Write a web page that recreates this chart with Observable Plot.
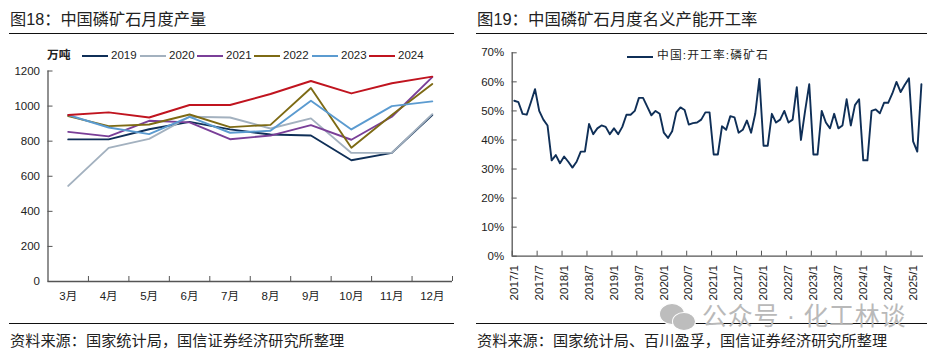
<!DOCTYPE html>
<html><head><meta charset="utf-8">
<script src="https://cdn.jsdelivr.net/npm/d3@7"></script>
<script src="https://cdn.jsdelivr.net/npm/@observablehq/plot@0.6"></script>
<style>
html,body{margin:0;padding:0;background:#fff}
#page{position:relative;width:937px;height:354px;overflow:hidden;font-family:"Liberation Sans","Noto Sans CJK SC",sans-serif;color:#222}
#page svg{position:absolute;top:0}
.t{position:absolute;white-space:nowrap;line-height:1}
.r{position:absolute;height:1.3px;background:#111}
.s{position:absolute;height:2.2px}
</style></head><body><div id="page"></div>
<script>
const months = ["3月","4月","5月","6月","7月","8月","9月","10月","11月","12月"];
const years = ["2019","2020","2021","2022","2023","2024"];
const colors = ["#0f2f57","#a3b1bf","#7a3f98","#7d6a14","#5b9bd0","#c0141f"];
const v2019 = [810,810,868,910,867,838,832,691,733,949];
const v2020 = [545,762,813,939,935,872,930,733,733,954];
const v2021 = [853,827,916,907,811,832,891,808,939,1165];
const v2022 = [943,886,895,952,880,893,1103,762,949,1126];
const v2023 = [949,878,840,939,848,859,1030,867,1000,1027];
const v2024 = [949,964,935,1006,1006,1069,1143,1072,1130,1168];
const rate = [53.5,53,49,48.7,53,57.5,50,47,45,33,34.8,32,34.3,32.5,30.5,32.5,36,36,45.5,42,44,45,44.5,42,44,42,44.5,48.7,48.7,50,54.5,54.5,51.5,48.5,50,49,42.5,40.7,43,49.5,51.2,50.3,45.3,45.8,46,47,49.5,49.5,35,35,44.7,43.5,48.2,47.8,42.5,43.5,46.7,42.5,49,61,38,38,49,46,47,50,46,47,58.2,40,50,59.2,35,35,50,46,44,49,44,45,54,45,52,54,33,33,50,50.5,49.2,52.8,52.8,56,60,56.5,59,61.2,39.5,36,59.2];
const rateTicks = ["2017/1","2017/7","2018/1","2018/7","2019/1","2019/7","2020/1","2020/7","2021/1","2021/7","2022/1","2022/7","2023/1","2023/7","2024/1","2024/7","2025/1"];
const yTicksL = [0,200,400,600,800,1000,1200];
const yTicksR = [0,10,20,30,40,50,60,70];
const legendX = [82,140,197,254,312,369];

const page = document.getElementById("page");
const font = `"Liberation Sans","Noto Sans CJK SC",sans-serif`;
const axisColor = "#555";
function txt(s,x,y,size,extra){const d=document.createElement("div");d.className="t";d.textContent=s;d.style.cssText=`left:${x}px;top:${y}px;font-size:${size}px;${extra||""}`;page.appendChild(d);return d}
function rule(x,y,w){const d=document.createElement("div");d.className="r";d.style.cssText=`left:${x}px;top:${y}px;width:${w}px`;page.appendChild(d)}
function swatch(x,y,w,c){const d=document.createElement("div");d.className="s";d.style.cssText=`left:${x}px;top:${y}px;width:${w}px;background:${c}`;page.appendChild(d)}

// left chart
const series = [v2019,v2020,v2021,v2022,v2023,v2024];
const rows = years.flatMap((yr,k)=>months.map((m,i)=>({yr,x:i+0.5,v:series[k][i]})));
const left = Plot.plot({
  width:460,height:354,marginLeft:47.5,marginRight:8,marginTop:70.5,marginBottom:73,
  style:{fontFamily:font,fontSize:"11.5px",color:"#222",background:"transparent"},
  x:{domain:[0,10],axis:null},
  y:{domain:[0,1200],axis:null},
  color:{domain:years,range:colors},
  marks:[
    Plot.line(rows,{x:"x",y:"v",stroke:"yr",z:"yr",strokeWidth:1.9,curve:"linear"}),
    Plot.ruleX([0],{stroke:axisColor,strokeWidth:1.3}),
    Plot.ruleY([0],{stroke:axisColor,strokeWidth:1.3}),
    Plot.axisY({ticks:yTicksL,tickSize:-5,tickPadding:13,stroke:axisColor,fill:"#222",label:null,tickFormat:d=>String(d)}),
    Plot.axisX({ticks:d3.range(1,11),tickSize:-5,tickFormat:()=>"",stroke:axisColor,label:null}),
    Plot.axisX({ticks:months.map((m,i)=>i+0.5),tickSize:0,tickPadding:10,label:null,tickFormat:d=>months[d-0.5],fill:"#222"})
  ]
});
left.style.left="0px";
page.appendChild(left);

// right chart
const pts = rate.map((v,i)=>({x:i+0.5,v}));
const right = Plot.plot({
  width:467,height:354,marginLeft:41.7,marginRight:14,marginTop:52.3,marginBottom:98.3,
  style:{fontFamily:font,fontSize:"11.5px",color:"#222",background:"transparent"},
  x:{domain:[0,99],axis:null},
  y:{domain:[0,70],axis:null},
  marks:[
    Plot.line(pts,{x:"x",y:"v",stroke:"#0f2f57",strokeWidth:1.9,curve:"linear"}),
    Plot.ruleX([0],{stroke:axisColor,strokeWidth:1.3}),
    Plot.ruleY([0],{stroke:axisColor,strokeWidth:1.3}),
    Plot.axisY({ticks:yTicksR,tickSize:-5,tickPadding:13,stroke:axisColor,fill:"#222",label:null,tickFormat:d=>d+"%"}),
    Plot.axisX({ticks:rateTicks.map((t,i)=>i*6),tickSize:-5,tickFormat:()=>"",stroke:axisColor,label:null}),
    Plot.axisX({ticks:rateTicks.map((t,i)=>i*6+0.5),tickSize:0,tickPadding:9,tickRotate:-90,label:null,tickFormat:d=>rateTicks[(d-0.5)/6],fill:"#222"})
  ]
});
right.style.left="470px";
page.appendChild(right);

// titles, rules, captions
txt("图18：中国磷矿石月度产量",10,11,16.2);
txt("图19：中国磷矿石月度名义产能开工率",477,11,16.4);
rule(9,33,445);rule(476,33,451);
rule(9,323,445);rule(476,323,451);
txt("资料来源：国家统计局，国信证券经济研究所整理",10,333,15.2);
txt("资料来源：国家统计局、百川盈孚，国信证券经济研究所整理",477,333,15.2);

// left legend
txt("万吨",47,50,11.8,"font-weight:bold");
years.forEach((y,i)=>{swatch(legendX[i],55,25.5,colors[i]);txt(y,legendX[i]+29,50,11.5)});
// right legend
swatch(627,55.5,26,"#0f2f57");
txt("中国:开工率:磷矿石",657,50,11.8,"letter-spacing:1.1px");

// watermark
txt("公众号 · 化工林谈",702,304,25,"color:#b9b9b9;letter-spacing:0.7px");
const dot=(x,y,w,h)=>{const d=document.createElement("div");d.style.cssText=`position:absolute;left:${x}px;top:${y}px;width:${w}px;height:${h}px;border-radius:50%;background:#bdbdbd;border:1px solid #fff`;page.appendChild(d)};
dot(659,303,24,20);dot(672,312,22,17);
</script></body></html>
